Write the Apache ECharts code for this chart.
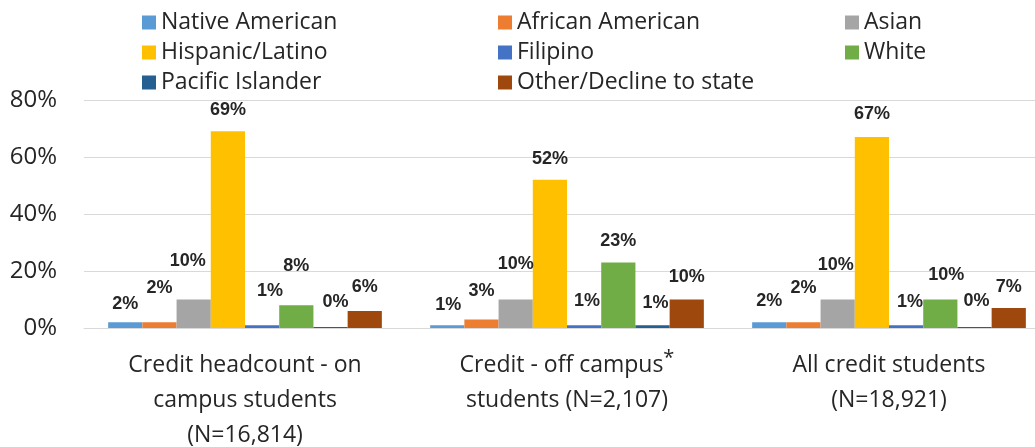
<!DOCTYPE html>
<html lang="en">
<head>
    <meta charset="UTF-8">
    <title>Credit students by ethnicity</title>
    <style>
        *{
            margin: 0;
            padding: 0;
        }
        body{
            background: #fff;
        }
    </style>
</head>
<body>
<div id="main" style="width: 1035px;height:447px;"></div>
<script src="https://cdn.jsdelivr.net/npm/echarts@6/dist/echarts.min.js"></script>
<script type="text/javascript">
    // 数据
    var categories = [
        'Credit headcount - on\ncampus students\n(N=16,814)',
        'Credit - off campus{sup|*}\nstudents (N=2,107)',
        'All credit students\n(N=18,921)'
    ];
    var groups = ['Native American', 'African American', 'Asian', 'Hispanic/Latino',
                  'Filipino', 'White', 'Pacific Islander', 'Other/Decline to state'];
    var nativeAmerican = [2, 1, 2];
    var africanAmerican = [2, 3, 2];
    var asian = [10, 10, 10];
    var hispanic = [69, 52, 67];
    var filipino = [1, 1, 1];
    var white = [8, 23, 10];
    var pacific = [0, 1, 0];
    var other = [6, 10, 7];
    var yTicks = [0, 20, 40, 60, 80];

    var colors = ['#5B9BD5', '#ED7D31', '#A5A5A5', '#FFC000', '#4472C4', '#70AD47', '#255E91', '#9E480E'];
    // label nudges (Excel labels were dragged by hand)
    var labelShift = [
        [[0, 3], [1, 1], [0, 0]],
        [[0, -13], [0, -7], [0, -13]],
        [[-6, -17], [0, -14], [-2, -13]],
        [[0, 0], [0, 0], [0, -2]],
        [[8, -13], [3, -3], [4, -2]],
        [[0, -18], [0, 0], [6, -3]],
        [[5, -4], [3, -1], [2, -5]],
        [[0, -3], [0, -1], [0, 0]]
    ];

    var values = [nativeAmerican, africanAmerican, asian, hispanic, filipino, white, pacific, other];

    var series = [];
    for(let i = 0; i < groups.length; i++){
        let d = [];
        for(let j = 0; j < values[i].length; j++){
            d.push({value: values[i][j], label: {offset: labelShift[i][j]}});
        }
        series.push({
            name: groups[i],
            type: 'bar',
            barGap: '0%',
            barCategoryGap: '15%',
            barMinHeight: 1,
            itemStyle: {color: colors[i]},
            label: {
                show: true,
                position: 'top',
                distance: 12,
                formatter: '{c}%',
                fontFamily: 'Liberation Sans',
                fontWeight: 'bold',
                fontSize: 18,
                color: '#262626'
            },
            data: d
        });
    }

    var legendText = {fontFamily: 'Open Sans', fontSize: 23, lineHeight: 22, color: '#262626'};
    function makeLegend(left, names){
        return {
            orient: 'vertical',
            left: left,
            top: 11,
            padding: 0,
            itemWidth: 14,
            itemHeight: 14,
            itemGap: 7,
            icon: 'rect',
            textStyle: legendText,
            data: names
        };
    }

    var myChart = echarts.init(document.getElementById('main'));
    myChart.setOption({
        animation: false,
        legend: [
            makeLegend(142, [groups[0], groups[3], groups[6]]),
            makeLegend(498, [groups[1], groups[4], groups[7]]),
            makeLegend(845, [groups[2], groups[5]])
        ],
        grid: {
            left: 84,
            top: 100,
            width: 966,
            bottom: 119,
            outerBoundsMode: 'none',
            containLabel: false
        },
        xAxis: {
            type: 'category',
            data: categories,
            axisTick: {show: false},
            axisLine: {lineStyle: {color: '#D9D9D9'}},
            axisLabel: {
                margin: 20,
                interval: 0,
                fontFamily: 'Open Sans',
                fontSize: 23,
                lineHeight: 35,
                color: '#262626',
                rich: {
                    sup: {fontFamily: 'Open Sans', fontSize: 20, lineHeight: 35, verticalAlign: 'top', padding: [0, 0, 14, 0], color: '#262626'}
                }
            }
        },
        yAxis: {
            type: 'value',
            min: yTicks[0],
            max: yTicks[yTicks.length - 1],
            interval: 20,
            axisLine: {show: false},
            axisTick: {show: false},
            splitLine: {lineStyle: {color: '#D9D9D9'}},
            axisLabel: {
                margin: 27,
                formatter: '{value}%',
                fontFamily: 'Open Sans',
                fontSize: 24,
                color: '#262626'
            }
        },
        series: series
    });
</script>
</body>
</html>
